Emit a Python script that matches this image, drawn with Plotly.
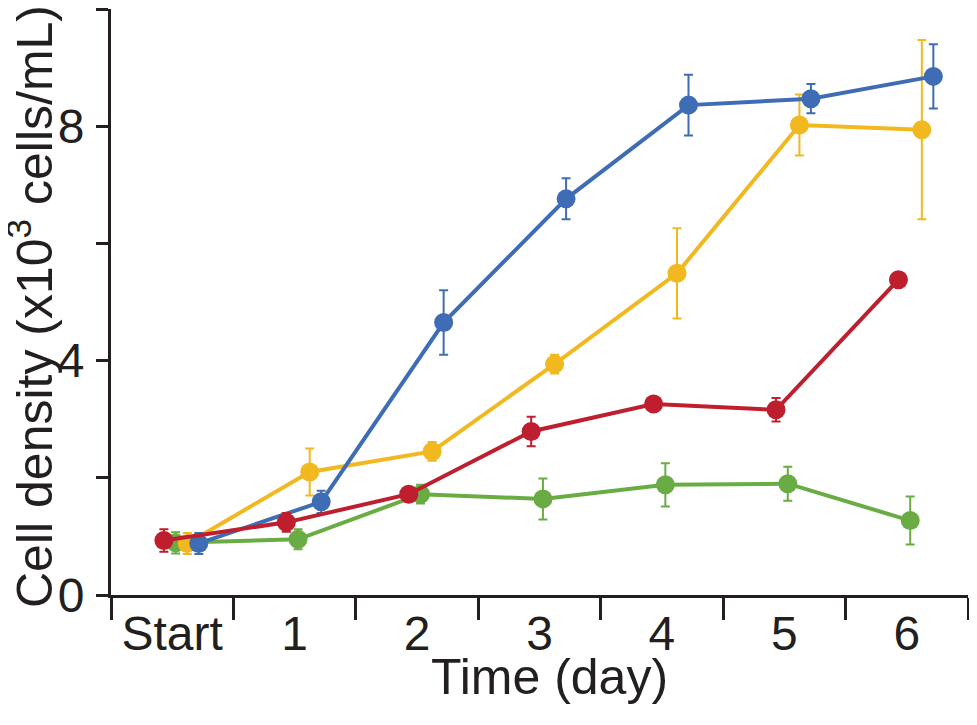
import plotly.graph_objects as go

# Time points (day index 0 = Start)
days = ["Start", "1", "2", "3", "4", "5", "6"]
day_idx = [0, 1, 2, 3, 4, 5, 6]

# Cell density (x10^3 cells/mL), mean and error per series
blue_y = [0.88, 1.59, 4.65, 6.76, 8.36, 8.47, 8.85]
blue_err = [0.18, 0.19, 0.55, 0.35, 0.52, 0.25, 0.55]

yellow_y = [0.88, 2.10, 2.45, 3.94, 5.49, 8.02, 7.94]
yellow_err = [0.18, 0.40, 0.16, 0.16, 0.77, 0.52, 1.53]

red_y = [0.93, 1.24, 1.72, 2.79, 3.26, 3.16, 5.38]
red_err = [0.19, 0.16, 0.08, 0.25, 0.05, 0.20, 0.05]

green_y = [0.89, 0.95, 1.72, 1.64, 1.88, 1.90, 1.27]
green_err = [0.18, 0.17, 0.16, 0.35, 0.37, 0.29, 0.41]

y_ticks = [0, 2, 4, 6, 8, 10]
y_ticktext = ["0", "", "4", "", "8", ""]

ink = "#231f20"
font = "Liberation Sans, Arial, sans-serif"

# series drawn green -> yellow -> blue -> red (red on top), with a small dodge
series = [
    ("green", green_y, green_err, "#6aac44", 0.028),
    ("yellow", yellow_y, yellow_err, "#f2b81f", 0.123),
    ("blue", blue_y, blue_err, "#3f6db5", 0.217),
    ("red", red_y, red_err, "#be1e2d", -0.068),
]

fig = go.Figure()
for name, ys, errs, color, dodge in series:
    fig.add_trace(go.Scatter(
        x=[d + dodge for d in day_idx], y=ys, name=name,
        mode="lines+markers",
        line=dict(color=color, width=4),
        marker=dict(color=color, size=19),
        error_y=dict(type="data", array=errs, color=color, thickness=2, width=4.5),
        showlegend=False,
    ))

# page body has an 8px margin, so the figure is sized to fit inside it
fig.update_layout(
    width=961, height=709,
    margin=dict(l=103, r=1, t=1, b=122),
    plot_bgcolor="white", paper_bgcolor="white",
    font=dict(family=font, size=48, color=ink),
    xaxis=dict(
        range=[-0.5, 6.5], showline=True, linecolor=ink, linewidth=3,
        showgrid=False, zeroline=False, automargin=False,
        tickmode="array", tickvals=day_idx, ticktext=days, ticks="",
        ticklabelstandoff=-6,
        minor=dict(ticks="outside", tick0=-0.5, dtick=1, ticklen=22,
                   tickwidth=3, tickcolor=ink, showgrid=False),
    ),
    yaxis=dict(
        range=[0, 10], showline=True, linecolor=ink, linewidth=3,
        showgrid=False, zeroline=False, automargin=False,
        tickmode="array", tickvals=y_ticks, ticktext=y_ticktext,
        ticks="outside", ticklen=12, tickwidth=3, tickcolor=ink,
        ticklabelstandoff=2,
    ),
)

# axis titles placed as annotations for tighter control of position
fig.add_annotation(
    text="Time (day)", xref="paper", yref="paper", x=0.5, y=0,
    xanchor="center", yanchor="middle", xshift=10, yshift=-82,
    showarrow=False, font=dict(size=50),
)
fig.add_annotation(
    text="Cell density (x10<sup>3</sup> cells/mL)", xref="paper", yref="paper",
    x=0, y=0.5, xanchor="center", yanchor="middle", xshift=-80, yshift=-5,
    textangle=-90, showarrow=False, font=dict(size=50),
)

fig.write_html("out.html")
